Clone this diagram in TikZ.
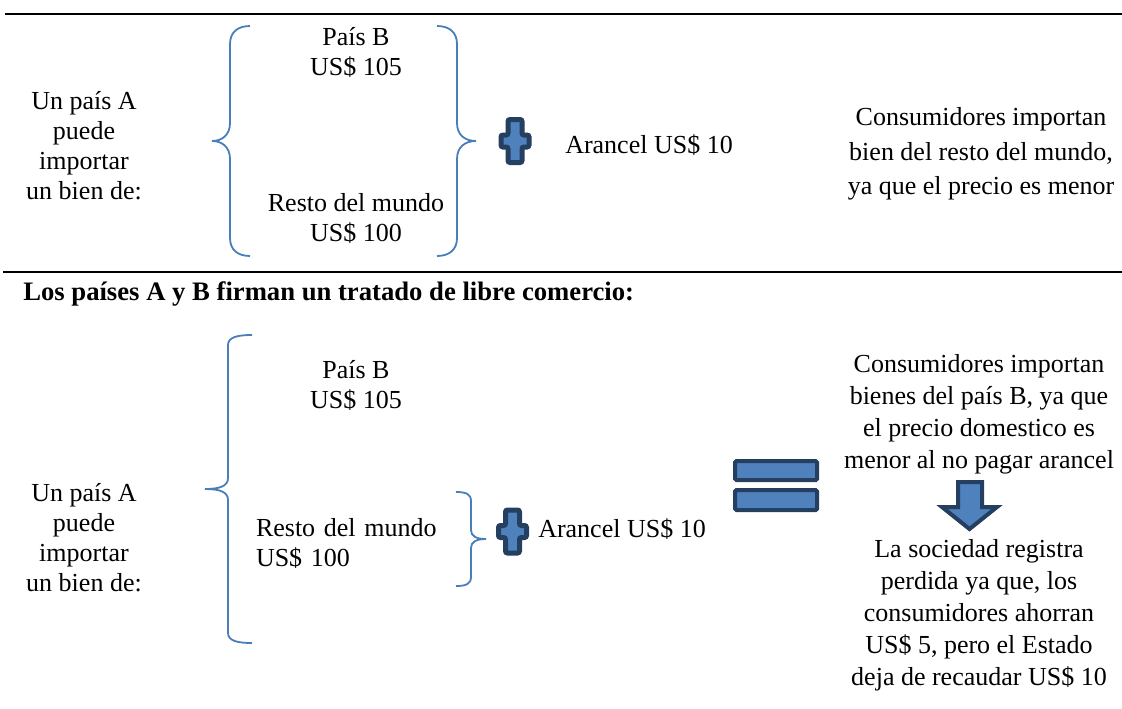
\documentclass[tikz,border=0pt]{standalone}
\usepackage{fontspec}
\setmainfont{Liberation Serif}
\usetikzlibrary{positioning}

\definecolor{llaveazul}{HTML}{4A7EBB}
\definecolor{bordeazul}{HTML}{243F60}
\definecolor{rellenoazul}{HTML}{4F81BD}

\begin{document}
\begin{tikzpicture}[
  x=0.75pt, y=-0.75pt,
  texto/.style={align=center, inner sep=0pt, font=\fontsize{19.5}{22.5}\selectfont},
  llave/.style={draw=llaveazul, line width=1.35pt},
  signo/.style={draw=bordeazul, fill=rellenoazul, line width=3.75pt, rounded corners=1.5pt},
  igual/.style={draw=bordeazul, fill=rellenoazul, line width=3pt, rounded corners=1pt},
  regla/.style={line width=1.5pt}]

  \useasboundingbox (0,0) rectangle (1122,708);

  \draw[regla] (5,14) -- (1122,14);
  \draw[regla] (3,272) -- (1122,272);

  \node[texto](pais1) at (84,146) {Un país A\\puede\\importar\\un bien de:};
  \draw[llave] (250,26) .. controls (238,26) and (230,32) .. (230,44) -- (230,123)
    .. controls (230,135) and (222,141) .. (212,141)
    .. controls (222,141) and (230,147) .. (230,159) -- (230,238)
    .. controls (230,250) and (238,256) .. (250,256);
  \node[texto](b1) at (356,52) {País B\\US\$ 105};
  \node[texto](resto1) at (356,218) {Resto del mundo\\US\$ 100};
  \draw[llave] (437,26) .. controls (449,26) and (457,32) .. (457,44) -- (457,123)
    .. controls (457,135) and (465,141) .. (476,141)
    .. controls (465,141) and (457,147) .. (457,159) -- (457,238)
    .. controls (457,250) and (449,256) .. (437,256);
  \coordinate (mas1) at (515,141);
  \draw[signo] (mas1) ++(-7,-21.5) -- ++(14,0) -- ++(0,15.5) -- ++(7,0) -- ++(0,12)
    -- ++(-7,0) -- ++(0,15.5) -- ++(-14,0) -- ++(0,-15.5) -- ++(-7,0) -- ++(0,-12)
    -- ++(7,0) -- cycle;
  \node[texto, anchor=west](arancel1) at (565,145) {Arancel US\$ 10};
  \node[texto, font=\fontsize{19.5}{26}\selectfont](cons1) at (981,154)
    {Consumidores importan\\bien del resto del mundo,\\ya que el precio es menor};

  \node[texto, font=\fontsize{20}{22.5}\selectfont\bfseries, anchor=west](tlc) at (23,294)
    {Los países A y B firman un tratado de libre comercio:};

  \node[texto](pais2) at (84,538) {Un país A\\puede\\importar\\un bien de:};
  \draw[llave] (252,335) .. controls (238,335) and (228,337) .. (228,345) -- (228,478)
    .. controls (228,486) and (220,489) .. (205,489)
    .. controls (220,489) and (228,492) .. (228,500) -- (228,633)
    .. controls (228,641) and (238,643) .. (252,643);
  \node[texto](b2) at (356,385) {País B\\US\$ 105};
  \node[texto, text width=150pt, align=left](resto2) at (356,543)
    {\makebox[\linewidth][s]{Resto del mundo}\\US\$ 100};
  \draw[llave] (456,492) .. controls (466,492) and (471,494) .. (471,501) -- (471,530)
    .. controls (471,536) and (476,539) .. (486,539)
    .. controls (476,539) and (471,542) .. (471,548) -- (471,577)
    .. controls (471,584) and (466,586) .. (456,586);
  \coordinate (mas2) at (512.5,531.5);
  \draw[signo] (mas2) ++(-7,-21.5) -- ++(14,0) -- ++(0,15.5) -- ++(7,0) -- ++(0,12)
    -- ++(-7,0) -- ++(0,15.5) -- ++(-14,0) -- ++(0,-15.5) -- ++(-7,0) -- ++(0,-12)
    -- ++(7,0) -- cycle;
  \node[texto, anchor=west](arancel2) at (538,529) {Arancel US\$ 10};

  \draw[igual] (735,461) rectangle (817,480);
  \draw[igual] (735,490) rectangle (817,510);

  \node[texto, font=\fontsize{19.5}{24}\selectfont](cons2) at (979,414)
    {Consumidores importan\\bienes del país B, ya que\\el precio domestico es\\menor al no pagar arancel};
  \draw[igual, rounded corners=0pt, line join=miter] (958,482) -- (982,482) -- (982,507) -- (997,507)
    -- (969.5,529) -- (942,507) -- (958,507) -- cycle;
  \node[texto, font=\fontsize{19.5}{24}\selectfont](soc) at (979,615)
    {La sociedad registra\\perdida ya que, los\\consumidores ahorran\\US\$ 5, pero el Estado\\deja de recaudar US\$ 10};
\end{tikzpicture}
\end{document}
